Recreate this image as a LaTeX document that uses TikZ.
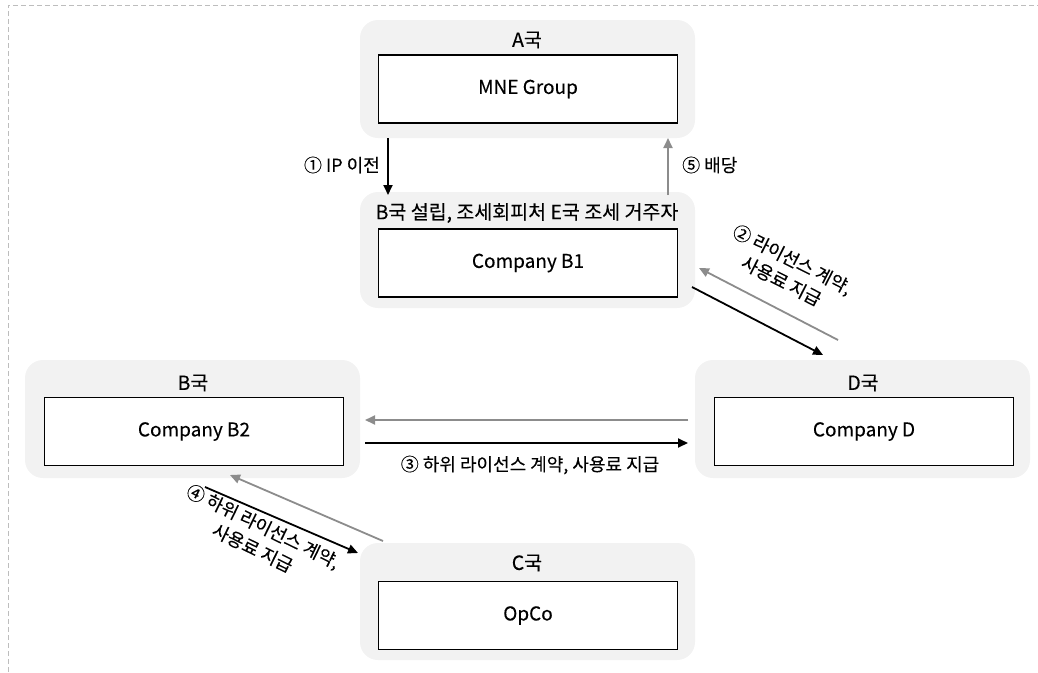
\documentclass[tikz,border=0pt]{standalone}
\usepackage{fontspec}
\setmainfont{Noto Sans CJK KR}[FakeBold=0.18]
\usetikzlibrary{arrows.meta}
\definecolor{panel}{HTML}{F2F2F2}
\definecolor{arrowgray}{HTML}{8C8C8C}
\definecolor{framegray}{HTML}{BDBDBD}
\begin{document}
\begin{tikzpicture}[x=1pt,y=-1pt,
  country/.style={fill=panel, rounded corners=18pt, minimum width=335pt, inner sep=0, draw=none},
  entity/.style={draw=black, line width=1.8pt, fill=white, minimum width=299pt, minimum height=68pt,
                 inner sep=0, font=\fontsize{19}{23}\selectfont},
  ctry/.style={inner sep=0, font=\fontsize{19.5}{23}\selectfont},
  lbl/.style={inner sep=0, align=center, font=\fontsize{18}{24}\selectfont},
  flow/.style={line width=1.8pt, -{Triangle[length=10pt,width=9pt]}},
  ret/.style={flow, draw=arrowgray, fill=arrowgray},
]
\useasboundingbox (0,0) rectangle (1038,672);

% outer dashed frame
\draw[framegray, line width=1pt, dash pattern=on 5pt off 3pt] (8,672) -- (8,5) -- (1038,5);

% country panels
\node[country, minimum height=118pt] (pA)  at (527.5,79)  {};
\node[country, minimum height=116pt] (pB1) at (527.5,250) {};
\node[country, minimum height=118pt] (pB2) at (192.5,419) {};
\node[country, minimum height=118pt] (pD)  at (862.5,419) {};
\node[country, minimum height=117pt] (pC)  at (527.5,601.5) {};

% country captions
\node[ctry] (cA)  at (527,40)  {A국};
\node[ctry] (cB1) at (527,213) {B국 설립, 조세회피처 E국 조세 거주자};
\node[ctry] (cB2) at (193,383) {B국};
\node[ctry] (cD)  at (863,383) {D국};
\node[ctry] (cC)  at (527,563) {C국};

% entities
\node[entity] (mne) at (528,89)    {MNE Group};
\node[entity] (b1)  at (528,263)   {Company B1};
\node[entity] (b2)  at (194,431.5) {Company B2};
\node[entity] (d)   at (864,431.5) {Company D};
\node[entity] (op)  at (528,615.5) {OpCo};

% flow end points
\coordinate (s1) at (388,138);  \coordinate (t1) at (388,195);
\coordinate (s5) at (668,195);  \coordinate (t5) at (668,138);
\coordinate (s2) at (692,287);  \coordinate (t2) at (823,355);
\coordinate (r2) at (838,340);  \coordinate (q2) at (699,268);
\coordinate (s3) at (365,443);  \coordinate (t3) at (688,443);
\coordinate (r3) at (688,420);  \coordinate (q3) at (365,420);
\coordinate (s4) at (205,487);  \coordinate (t4) at (358,553);
\coordinate (r4) at (383,541);  \coordinate (q4) at (230,475);

% flows
\draw[flow] (s1) -- (t1);
\draw[ret]  (s5) -- (t5);
\draw[flow] (s2) -- (t2);
\draw[ret]  (r2) -- (q2);
\draw[flow] (s3) -- (t3);
\draw[ret]  (r3) -- (q3);
\draw[flow] (s4) -- (t4);
\draw[ret]  (r4) -- (q4);

% flow labels
\node[lbl, anchor=east] (l1) at (380,165) {① IP 이전};
\node[lbl, anchor=west] (l5) at (682,165) {⑤ 배당};
\node[lbl, rotate=-27] (l2) at (787,270) {② 라이선스 계약,\\사용료 지급};
\node[lbl] (l3) at (530,465) {③ 하위 라이선스 계약, 사용료 지급};
\node[lbl, rotate=-26] (l4) at (258,537) {④ 하위 라이선스 계약,\\사용료 지급};
\end{tikzpicture}
\end{document}
